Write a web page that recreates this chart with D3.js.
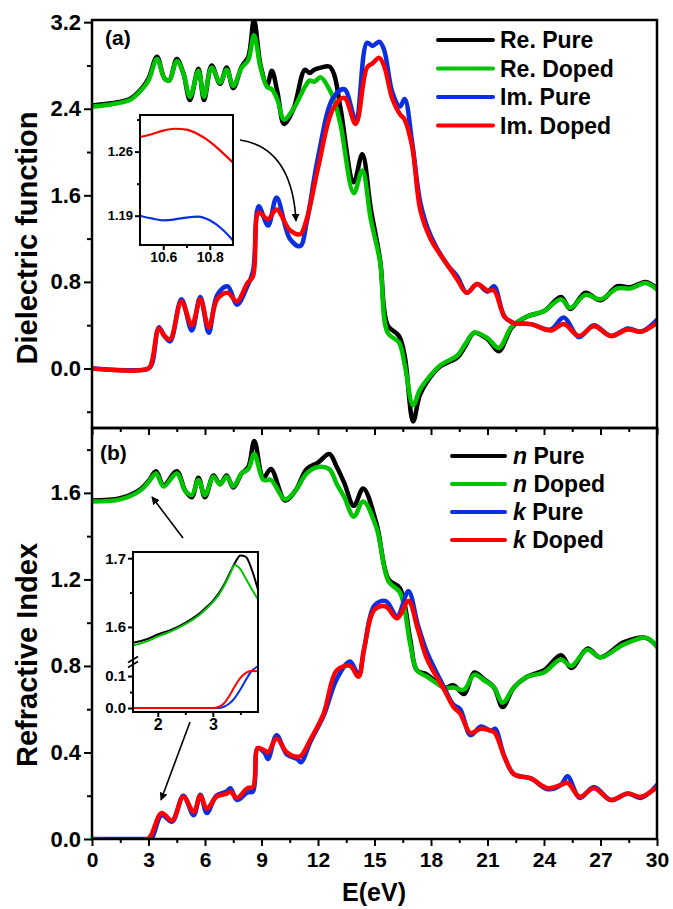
<!DOCTYPE html>
<html>
<head>
<meta charset="utf-8">
<script src="https://cdn.jsdelivr.net/npm/d3@7"></script>
<style>
  body { margin: 0; background: #fff; }
  svg text { font-family: Arial, "Liberation Sans", sans-serif; font-weight: bold; fill: #000; }
</style>
</head>
<body>
<svg id="chart" width="673" height="909"></svg>
<script>
// ---- panel (a): dielectric function ----
const energyRe = [0, 1, 2, 2.6, 3.0, 3.45, 3.85, 4.1, 4.5, 4.85, 5.2, 5.65, 5.95, 6.35, 6.8, 7.15, 7.5, 7.95, 8.3, 8.6,
  8.95, 9.3, 9.55, 9.85, 10.2, 10.7, 11.3, 11.55, 11.8, 12.15, 12.6, 12.85, 13.2, 13.9, 14.35, 14.8, 15.3, 15.7, 16.3, 16.6,
  17.05, 17.4, 17.8, 18.5, 19.4, 19.8, 20.3, 21.0, 21.6, 22.3, 23.1, 24.0, 24.9, 25.4, 26.2, 27.0, 27.9, 28.6, 29.4, 30.0];
const rePure = [2.43, 2.45, 2.49, 2.58, 2.68, 2.88, 2.68, 2.66, 2.86, 2.73, 2.48, 2.77, 2.48, 2.80, 2.63, 2.78, 2.59, 2.79, 2.88, 3.22,
  2.80, 2.62, 2.75, 2.55, 2.26, 2.40, 2.76, 2.73, 2.76, 2.78, 2.79, 2.72, 2.40, 1.72, 1.98, 1.48, 1.00, 0.40, 0.30, 0.12,
  -0.49, -0.25, -0.12, 0.02, 0.10, 0.20, 0.33, 0.27, 0.16, 0.38, 0.48, 0.53, 0.66, 0.55, 0.70, 0.63, 0.76, 0.75, 0.80, 0.74];
const reDoped = [2.42, 2.44, 2.48, 2.57, 2.66, 2.86, 2.68, 2.66, 2.84, 2.73, 2.51, 2.75, 2.51, 2.78, 2.64, 2.76, 2.61, 2.78, 2.85, 3.08,
  2.78, 2.60, 2.58, 2.48, 2.30, 2.40, 2.60, 2.66, 2.65, 2.69, 2.58, 2.48, 2.25, 1.62, 1.83, 1.38, 0.98, 0.33, 0.24, 0.04,
  -0.34, -0.20, -0.10, 0.03, 0.12, 0.22, 0.33, 0.28, 0.19, 0.39, 0.48, 0.53, 0.64, 0.56, 0.68, 0.64, 0.74, 0.74, 0.79, 0.73];

const energyIm = [0, 3.0, 3.2, 3.55, 3.85, 4.15, 4.75, 5.3, 5.75, 6.2, 6.65, 7.2, 7.7, 8.25, 8.55, 8.85, 9.35, 9.8, 10.5, 11.05,
  11.4, 12.0, 12.8, 13.4, 14.0, 14.6, 14.9, 15.25, 15.5, 15.95, 16.35, 16.6, 17.0, 17.45, 18.0, 18.9, 19.4, 19.9, 20.45, 21.0,
  21.35, 21.9, 22.4, 23.3, 24.35, 25.05, 25.85, 26.65, 27.55, 28.45, 29.15, 30.0];
const imPure = [0, 0, 0.05, 0.38, 0.30, 0.25, 0.64, 0.35, 0.66, 0.33, 0.68, 0.76, 0.59, 0.76, 0.90, 1.50, 1.32, 1.58, 1.20, 1.13,
  1.35, 1.95, 2.50, 2.58, 2.30, 3.01, 2.98, 3.02, 2.95, 2.55, 2.42, 2.49, 2.09, 1.52, 1.22, 0.95, 0.85, 0.70, 0.78, 0.71,
  0.76, 0.48, 0.42, 0.41, 0.36, 0.47, 0.29, 0.40, 0.30, 0.37, 0.34, 0.45];
const imDoped = [0, 0, 0.08, 0.37, 0.30, 0.27, 0.62, 0.40, 0.64, 0.38, 0.64, 0.70, 0.62, 0.79, 0.85, 1.44, 1.38, 1.47, 1.28, 1.24,
  1.38, 1.85, 2.40, 2.50, 2.26, 2.78, 2.82, 2.87, 2.80, 2.49, 2.35, 2.30, 2.05, 1.45, 1.19, 0.95, 0.82, 0.70, 0.78, 0.72,
  0.72, 0.48, 0.42, 0.41, 0.35, 0.41, 0.30, 0.39, 0.30, 0.36, 0.34, 0.42];

// inset (a) zoom around 10.5-10.9 eV
const insetAEnergy = [10.5, 10.55, 10.6, 10.65, 10.7, 10.75, 10.8, 10.85, 10.9];
const insetAImDoped = [1.276, 1.279, 1.283, 1.285, 1.284, 1.279, 1.271, 1.260, 1.248];
const insetAImPure = [1.190, 1.187, 1.185, 1.186, 1.188, 1.189, 1.185, 1.176, 1.163];

// ---- panel (b): refractive index ----
const energyN = [0, 1.5, 2.55, 3.0, 3.4, 3.8, 4.5, 4.95, 5.3, 5.65, 6.0, 6.45, 6.8, 7.15, 7.5, 7.95, 8.3, 8.62, 9.1, 9.5,
  10.25, 10.8, 11.4, 12.0, 12.6, 13.0, 13.4, 13.9, 14.4, 15.1, 15.75, 16.35, 16.9, 17.25, 17.8, 18.7, 19.2, 19.75, 20.3, 20.8,
  21.35, 21.8, 22.4, 23.1, 24.0, 24.9, 25.45, 26.3, 27.0, 28.25, 29.4, 30.0];
const nPure = [1.565, 1.575, 1.615, 1.655, 1.70, 1.635, 1.70, 1.61, 1.58, 1.67, 1.58, 1.68, 1.64, 1.68, 1.625, 1.69, 1.72, 1.84, 1.67, 1.71,
  1.565, 1.61, 1.71, 1.74, 1.78, 1.72, 1.645, 1.54, 1.62, 1.46, 1.20, 1.16, 0.92, 0.78, 0.76, 0.70, 0.71, 0.67, 0.77, 0.74,
  0.70, 0.61, 0.70, 0.75, 0.78, 0.85, 0.79, 0.88, 0.84, 0.91, 0.93, 0.89];
const nDoped = [1.56, 1.57, 1.61, 1.65, 1.69, 1.63, 1.69, 1.61, 1.59, 1.66, 1.59, 1.675, 1.64, 1.675, 1.63, 1.69, 1.71, 1.78, 1.66, 1.66,
  1.57, 1.61, 1.69, 1.72, 1.71, 1.64, 1.58, 1.49, 1.56, 1.44, 1.19, 1.14, 0.90, 0.78, 0.75, 0.70, 0.70, 0.69, 0.76, 0.735,
  0.70, 0.63, 0.70, 0.75, 0.77, 0.83, 0.80, 0.875, 0.84, 0.90, 0.93, 0.89];

const energyK = [0, 2.95, 3.15, 3.7, 4.25, 4.85, 5.4, 5.75, 6.1, 6.6, 7.15, 7.35, 7.7, 8.25, 8.55, 8.8, 9.15, 9.35, 9.8, 10.35,
  10.9, 11.1, 11.6, 12.3, 13.0, 13.7, 14.15, 14.45, 15.0, 15.6, 16.2, 16.8, 17.3, 17.8, 18.7, 19.2, 19.55, 20.1, 20.65, 21.2,
  21.4, 21.9, 22.4, 23.3, 24.2, 24.9, 25.25, 25.9, 26.65, 27.55, 28.45, 29.15, 30.0];
const kPure = [0, 0, 0.0, 0.11, 0.08, 0.20, 0.11, 0.205, 0.12, 0.20, 0.22, 0.235, 0.18, 0.215, 0.22, 0.42, 0.40, 0.37, 0.48, 0.39,
  0.37, 0.355, 0.45, 0.57, 0.74, 0.82, 0.76, 0.88, 1.08, 1.10, 1.03, 1.145, 0.99, 0.86, 0.70, 0.62, 0.60, 0.48, 0.52, 0.50,
  0.51, 0.38, 0.30, 0.28, 0.23, 0.25, 0.29, 0.19, 0.24, 0.18, 0.21, 0.19, 0.25];
const kDoped = [0, 0, 0.02, 0.12, 0.085, 0.195, 0.125, 0.20, 0.14, 0.195, 0.21, 0.22, 0.19, 0.235, 0.24, 0.42, 0.41, 0.40, 0.465, 0.40,
  0.38, 0.385, 0.46, 0.58, 0.78, 0.80, 0.75, 0.88, 1.06, 1.075, 1.02, 1.10, 0.97, 0.83, 0.69, 0.61, 0.58, 0.49, 0.51, 0.50,
  0.49, 0.38, 0.30, 0.28, 0.235, 0.25, 0.26, 0.195, 0.235, 0.18, 0.21, 0.195, 0.24];

// inset (b) zoom around the absorption edge (broken y axis)
const insetBEnergy = [1.55, 1.8, 2.0, 2.25, 2.5, 2.75, 2.9, 3.0, 3.1, 3.2, 3.3, 3.4, 3.5, 3.6, 3.7, 3.82];
const insetBnPure = [1.577, 1.582, 1.589, 1.596, 1.606, 1.619, 1.630, 1.638, 1.648, 1.661, 1.677, 1.693, 1.704, 1.702, 1.685, 1.654];
const insetBnDoped = [1.573, 1.579, 1.586, 1.594, 1.604, 1.617, 1.628, 1.636, 1.646, 1.659, 1.675, 1.690, 1.684, 1.670, 1.656, 1.640];
const insetBkPure = [0, 0, 0, 0, 0, 0, 0, 0, 0, 0.004, 0.014, 0.032, 0.058, 0.088, 0.115, 0.13];
const insetBkDoped = [0, 0, 0, 0, 0, 0, 0, 0, 0.003, 0.014, 0.038, 0.068, 0.094, 0.110, 0.116, 0.115];

const xTicks = [0, 3, 6, 9, 12, 15, 18, 21, 24, 27, 30];
const yTicksA = [0, 0.8, 1.6, 2.4, 3.2];
const yTicksB = [0, 0.4, 0.8, 1.2, 1.6];
const legendA = ['Re. Pure', 'Re. Doped', 'Im. Pure', 'Im. Doped'];
const legendB = [['n', ' Pure'], ['n', ' Doped'], ['k', ' Pure'], ['k', ' Doped']];
const colors = ['#000000', '#00c400', '#0a2fe0', '#ff0000'];

const svg = d3.select('#chart');
const plotLeft = 92, plotRight = 657, topA = 20, bottomA = 428, bottomB = 839;

const x = d3.scaleLinear().domain([0, 30]).range([plotLeft, plotRight]);
const yA = d3.scaleLinear().domain([-0.55, 3.22]).range([bottomA, topA]);
const yB = d3.scaleLinear().domain([0, 1.9]).range([bottomB, bottomA]);

function zip(es, vs) { return es.map((e, i) => [e, vs[i]]); }

const defs = svg.append('defs');
function clip(id, x0, y0, w, h) {
  defs.append('clipPath').attr('id', id).append('rect')
    .attr('x', x0).attr('y', y0).attr('width', w).attr('height', h);
}
clip('clipA', plotLeft, topA, plotRight - plotLeft, bottomA - topA);
clip('clipB', plotLeft, bottomA, plotRight - plotLeft, bottomB - bottomA);

defs.append('marker').attr('id', 'arrow')
  .attr('viewBox', '0 0 10 10').attr('refX', 9).attr('refY', 5)
  .attr('markerWidth', 5).attr('markerHeight', 5).attr('orient', 'auto')
  .append('path').attr('d', 'M0,0 L10,5 L0,10 z').attr('fill', '#000');

function drawCurves(g, series, xs, ys, width, curve) {
  const line = d3.line().x(d => xs(d[0])).y(d => ys(d[1])).curve(curve);
  g.selectAll(null).data(series).enter().append('path')
    .attr('d', s => line(s.points))
    .attr('fill', 'none')
    .attr('stroke', s => s.color)
    .attr('stroke-width', width)
    .attr('stroke-linejoin', 'round')
    .attr('stroke-linecap', 'round');
}

function styleAxis(g, size) {
  g.attr('font-family', null).attr('font-size', null);
  g.select('.domain').remove();
  g.selectAll('line').attr('stroke', '#000').attr('stroke-width', 2);
  g.selectAll('text').attr('font-size', size);
}

const smooth = d3.curveCatmullRom.alpha(0.5);

// curves
const gA = svg.append('g').attr('clip-path', 'url(#clipA)');
drawCurves(gA, [
  {points: zip(energyRe, rePure), color: colors[0]},
  {points: zip(energyRe, reDoped), color: colors[1]},
  {points: zip(energyIm, imPure), color: colors[2]},
  {points: zip(energyIm, imDoped), color: colors[3]}
], x, yA, 4.5, smooth);

const gB = svg.append('g').attr('clip-path', 'url(#clipB)');
drawCurves(gB, [
  {points: zip(energyN, nPure), color: colors[0]},
  {points: zip(energyN, nDoped), color: colors[1]},
  {points: zip(energyK, kPure), color: colors[2]},
  {points: zip(energyK, kDoped), color: colors[3]}
], x, yB, 4.5, smooth);

// axes
const minorX = d3.range(1.5, 30, 3);
function xAxis(y, labels) {
  const gMaj = svg.append('g').attr('transform', `translate(0,${y})`)
    .call(d3.axisBottom(x).tickValues(xTicks).tickSize(7).tickSizeOuter(0).tickPadding(6)
      .tickFormat(labels ? d3.format('d') : ''));
  styleAxis(gMaj, 21);
  const gMin = svg.append('g').attr('transform', `translate(0,${y})`)
    .call(d3.axisBottom(x).tickValues(minorX).tickSize(4).tickFormat(''));
  styleAxis(gMin, 21);
}
function yAxis(scale, major, minor) {
  const gMaj = svg.append('g').attr('transform', `translate(${plotLeft},0)`)
    .call(d3.axisLeft(scale).tickValues(major).tickSize(8).tickSizeOuter(0).tickPadding(3)
      .tickFormat(d3.format('.1f')));
  styleAxis(gMaj, 22);
  const gMin = svg.append('g').attr('transform', `translate(${plotLeft},0)`)
    .call(d3.axisLeft(scale).tickValues(minor).tickSize(5).tickFormat(''));
  styleAxis(gMin, 22);
}
xAxis(bottomA, false);
xAxis(bottomB, true);
yAxis(yA, yTicksA, [-0.4, 0.4, 1.2, 2.0, 2.8]);
yAxis(yB, yTicksB, [0.2, 0.6, 1.0, 1.4, 1.8]);

// frames
svg.append('rect').attr('x', plotLeft).attr('y', topA).attr('width', plotRight - plotLeft)
  .attr('height', bottomA - topA).attr('fill', 'none').attr('stroke', '#000').attr('stroke-width', 2.5);
svg.append('rect').attr('x', plotLeft).attr('y', bottomA).attr('width', plotRight - plotLeft)
  .attr('height', bottomB - bottomA).attr('fill', 'none').attr('stroke', '#000').attr('stroke-width', 2.5);

// axis titles
svg.append('text').attr('transform', 'translate(37,238) rotate(-90)')
  .attr('text-anchor', 'middle').attr('font-size', 29).text('Dielectric function');
svg.append('text').attr('transform', 'translate(37,655) rotate(-90)')
  .attr('text-anchor', 'middle').attr('font-size', 29).text('Refractive Index');
svg.append('text').attr('x', 374).attr('y', 901).attr('text-anchor', 'middle')
  .attr('font-size', 25).text('E(eV)');

// panel labels
svg.append('text').attr('x', 105).attr('y', 45).attr('font-size', 21).text('(a)');
svg.append('text').attr('x', 100).attr('y', 460).attr('font-size', 21).text('(b)');

// legends
const legA = svg.append('g');
legendA.forEach((name, i) => {
  const y = 40 + i * 28.5;
  legA.append('line').attr('x1', 438).attr('x2', 493).attr('y1', y).attr('y2', y)
    .attr('stroke', colors[i]).attr('stroke-width', 4).attr('stroke-linecap', 'round');
  legA.append('text').attr('x', 500).attr('y', y).attr('dy', '0.35em')
    .attr('font-size', 23).text(name);
});
const legB = svg.append('g');
legendB.forEach((name, i) => {
  const y = 456 + i * 28;
  legB.append('line').attr('x1', 452).attr('x2', 505).attr('y1', y).attr('y2', y)
    .attr('stroke', colors[i]).attr('stroke-width', 4).attr('stroke-linecap', 'round');
  const t = legB.append('text').attr('x', 513).attr('y', y).attr('dy', '0.35em').attr('font-size', 23);
  t.append('tspan').attr('font-style', 'italic').text(name[0]);
  t.append('tspan').text(name[1]);
});

// ---- inset (a) ----
const iaL = 140, iaR = 233, iaT = 115, iaB = 245;
const xia = d3.scaleLinear().domain([10.5, 10.9]).range([iaL, iaR]);
const yia = d3.scaleLinear().domain([1.158, 1.30]).range([iaB, iaT]);
clip('clipIA', iaL, iaT, iaR - iaL, iaB - iaT);
svg.append('rect').attr('x', iaL).attr('y', iaT).attr('width', iaR - iaL).attr('height', iaB - iaT)
  .attr('fill', '#fff');
const gIA = svg.append('g').attr('clip-path', 'url(#clipIA)');
drawCurves(gIA, [
  {points: zip(insetAEnergy, insetAImPure), color: colors[2]},
  {points: zip(insetAEnergy, insetAImDoped), color: colors[3]}
], xia, yia, 2.2, d3.curveMonotoneX);
let g = svg.append('g').attr('transform', `translate(${iaL},0)`)
  .call(d3.axisLeft(yia).tickValues([1.19, 1.26]).tickSize(5).tickPadding(2).tickFormat(d3.format('.2f')));
styleAxis(g, 13);
g = svg.append('g').attr('transform', `translate(${iaL},0)`)
  .call(d3.axisLeft(yia).tickValues([1.225, 1.295]).tickSize(3).tickFormat(''));
styleAxis(g, 13);
g = svg.append('g').attr('transform', `translate(0,${iaB})`)
  .call(d3.axisBottom(xia).tickValues([10.6, 10.8]).tickSize(5).tickPadding(2).tickFormat(d3.format('.1f')));
styleAxis(g, 14);
g = svg.append('g').attr('transform', `translate(0,${iaB})`)
  .call(d3.axisBottom(xia).tickValues([10.7]).tickSize(3).tickFormat(''));
styleAxis(g, 14);
svg.append('rect').attr('x', iaL).attr('y', iaT).attr('width', iaR - iaL).attr('height', iaB - iaT)
  .attr('fill', 'none').attr('stroke', '#000').attr('stroke-width', 2);

// curved arrow (a)
svg.append('path').attr('d', 'M240,140 Q292,148 296,221')
  .attr('fill', 'none').attr('stroke', '#000').attr('stroke-width', 1.6)
  .attr('marker-end', 'url(#arrow)');

// ---- inset (b) with broken y axis ----
const ibL = 133, ibR = 258, ibT = 552, ibB = 712, ibMid = 662;
const xib = d3.scaleLinear().domain([1.55, 3.82]).range([ibL, ibR]);
const yibTop = d3.scaleLinear().domain([1.549, 1.709]).range([ibMid, ibT]);
const yibLow = d3.scaleLinear().domain([-0.0125, 0.144]).range([ibB, ibMid]);
clip('clipIB', ibL, ibT, ibR - ibL, ibB - ibT);
svg.append('rect').attr('x', ibL).attr('y', ibT).attr('width', ibR - ibL).attr('height', ibB - ibT)
  .attr('fill', '#fff');
const gIB = svg.append('g').attr('clip-path', 'url(#clipIB)');
drawCurves(gIB, [
  {points: zip(insetBEnergy, insetBnPure), color: colors[0]},
  {points: zip(insetBEnergy, insetBnDoped), color: colors[1]}
], xib, yibTop, 2, d3.curveMonotoneX);
drawCurves(gIB, [
  {points: zip(insetBEnergy, insetBkPure), color: colors[2]},
  {points: zip(insetBEnergy, insetBkDoped), color: colors[3]}
], xib, yibLow, 2, d3.curveMonotoneX);
g = svg.append('g').attr('transform', `translate(${ibL},0)`)
  .call(d3.axisLeft(yibTop).tickValues([1.6, 1.7]).tickSize(5).tickPadding(2).tickFormat(d3.format('.1f')));
styleAxis(g, 15);
g = svg.append('g').attr('transform', `translate(${ibL},0)`)
  .call(d3.axisLeft(yibTop).tickValues([1.65]).tickSize(3).tickFormat(''));
styleAxis(g, 15);
g = svg.append('g').attr('transform', `translate(${ibL},0)`)
  .call(d3.axisLeft(yibLow).tickValues([0, 0.1]).tickSize(5).tickPadding(2).tickFormat(d3.format('.1f')));
styleAxis(g, 15);
g = svg.append('g').attr('transform', `translate(${ibL},0)`)
  .call(d3.axisLeft(yibLow).tickValues([0.05]).tickSize(3).tickFormat(''));
styleAxis(g, 15);
g = svg.append('g').attr('transform', `translate(0,${ibB})`)
  .call(d3.axisBottom(xib).tickValues([2, 3]).tickSize(5).tickPadding(2).tickFormat(d3.format('d')));
styleAxis(g, 16);
g = svg.append('g').attr('transform', `translate(0,${ibB})`)
  .call(d3.axisBottom(xib).tickValues([2.5, 3.5]).tickSize(3).tickFormat(''));
styleAxis(g, 16);
svg.append('rect').attr('x', ibL).attr('y', ibT).attr('width', ibR - ibL).attr('height', ibB - ibT)
  .attr('fill', 'none').attr('stroke', '#000').attr('stroke-width', 2);
// break marks
[-2.5, 2.5].forEach(o => {
  svg.append('line').attr('x1', ibL - 5).attr('y1', ibMid + o + 3).attr('x2', ibL + 5).attr('y2', ibMid + o - 3)
    .attr('stroke', '#000').attr('stroke-width', 1.8);
});

// straight arrows (b)
svg.append('line').attr('x1', 183).attr('y1', 538).attr('x2', 152).attr('y2', 497)
  .attr('stroke', '#000').attr('stroke-width', 1.6).attr('marker-end', 'url(#arrow)');
svg.append('line').attr('x1', 190).attr('y1', 722).attr('x2', 161).attr('y2', 800)
  .attr('stroke', '#000').attr('stroke-width', 1.6).attr('marker-end', 'url(#arrow)');
</script>
</body>
</html>
